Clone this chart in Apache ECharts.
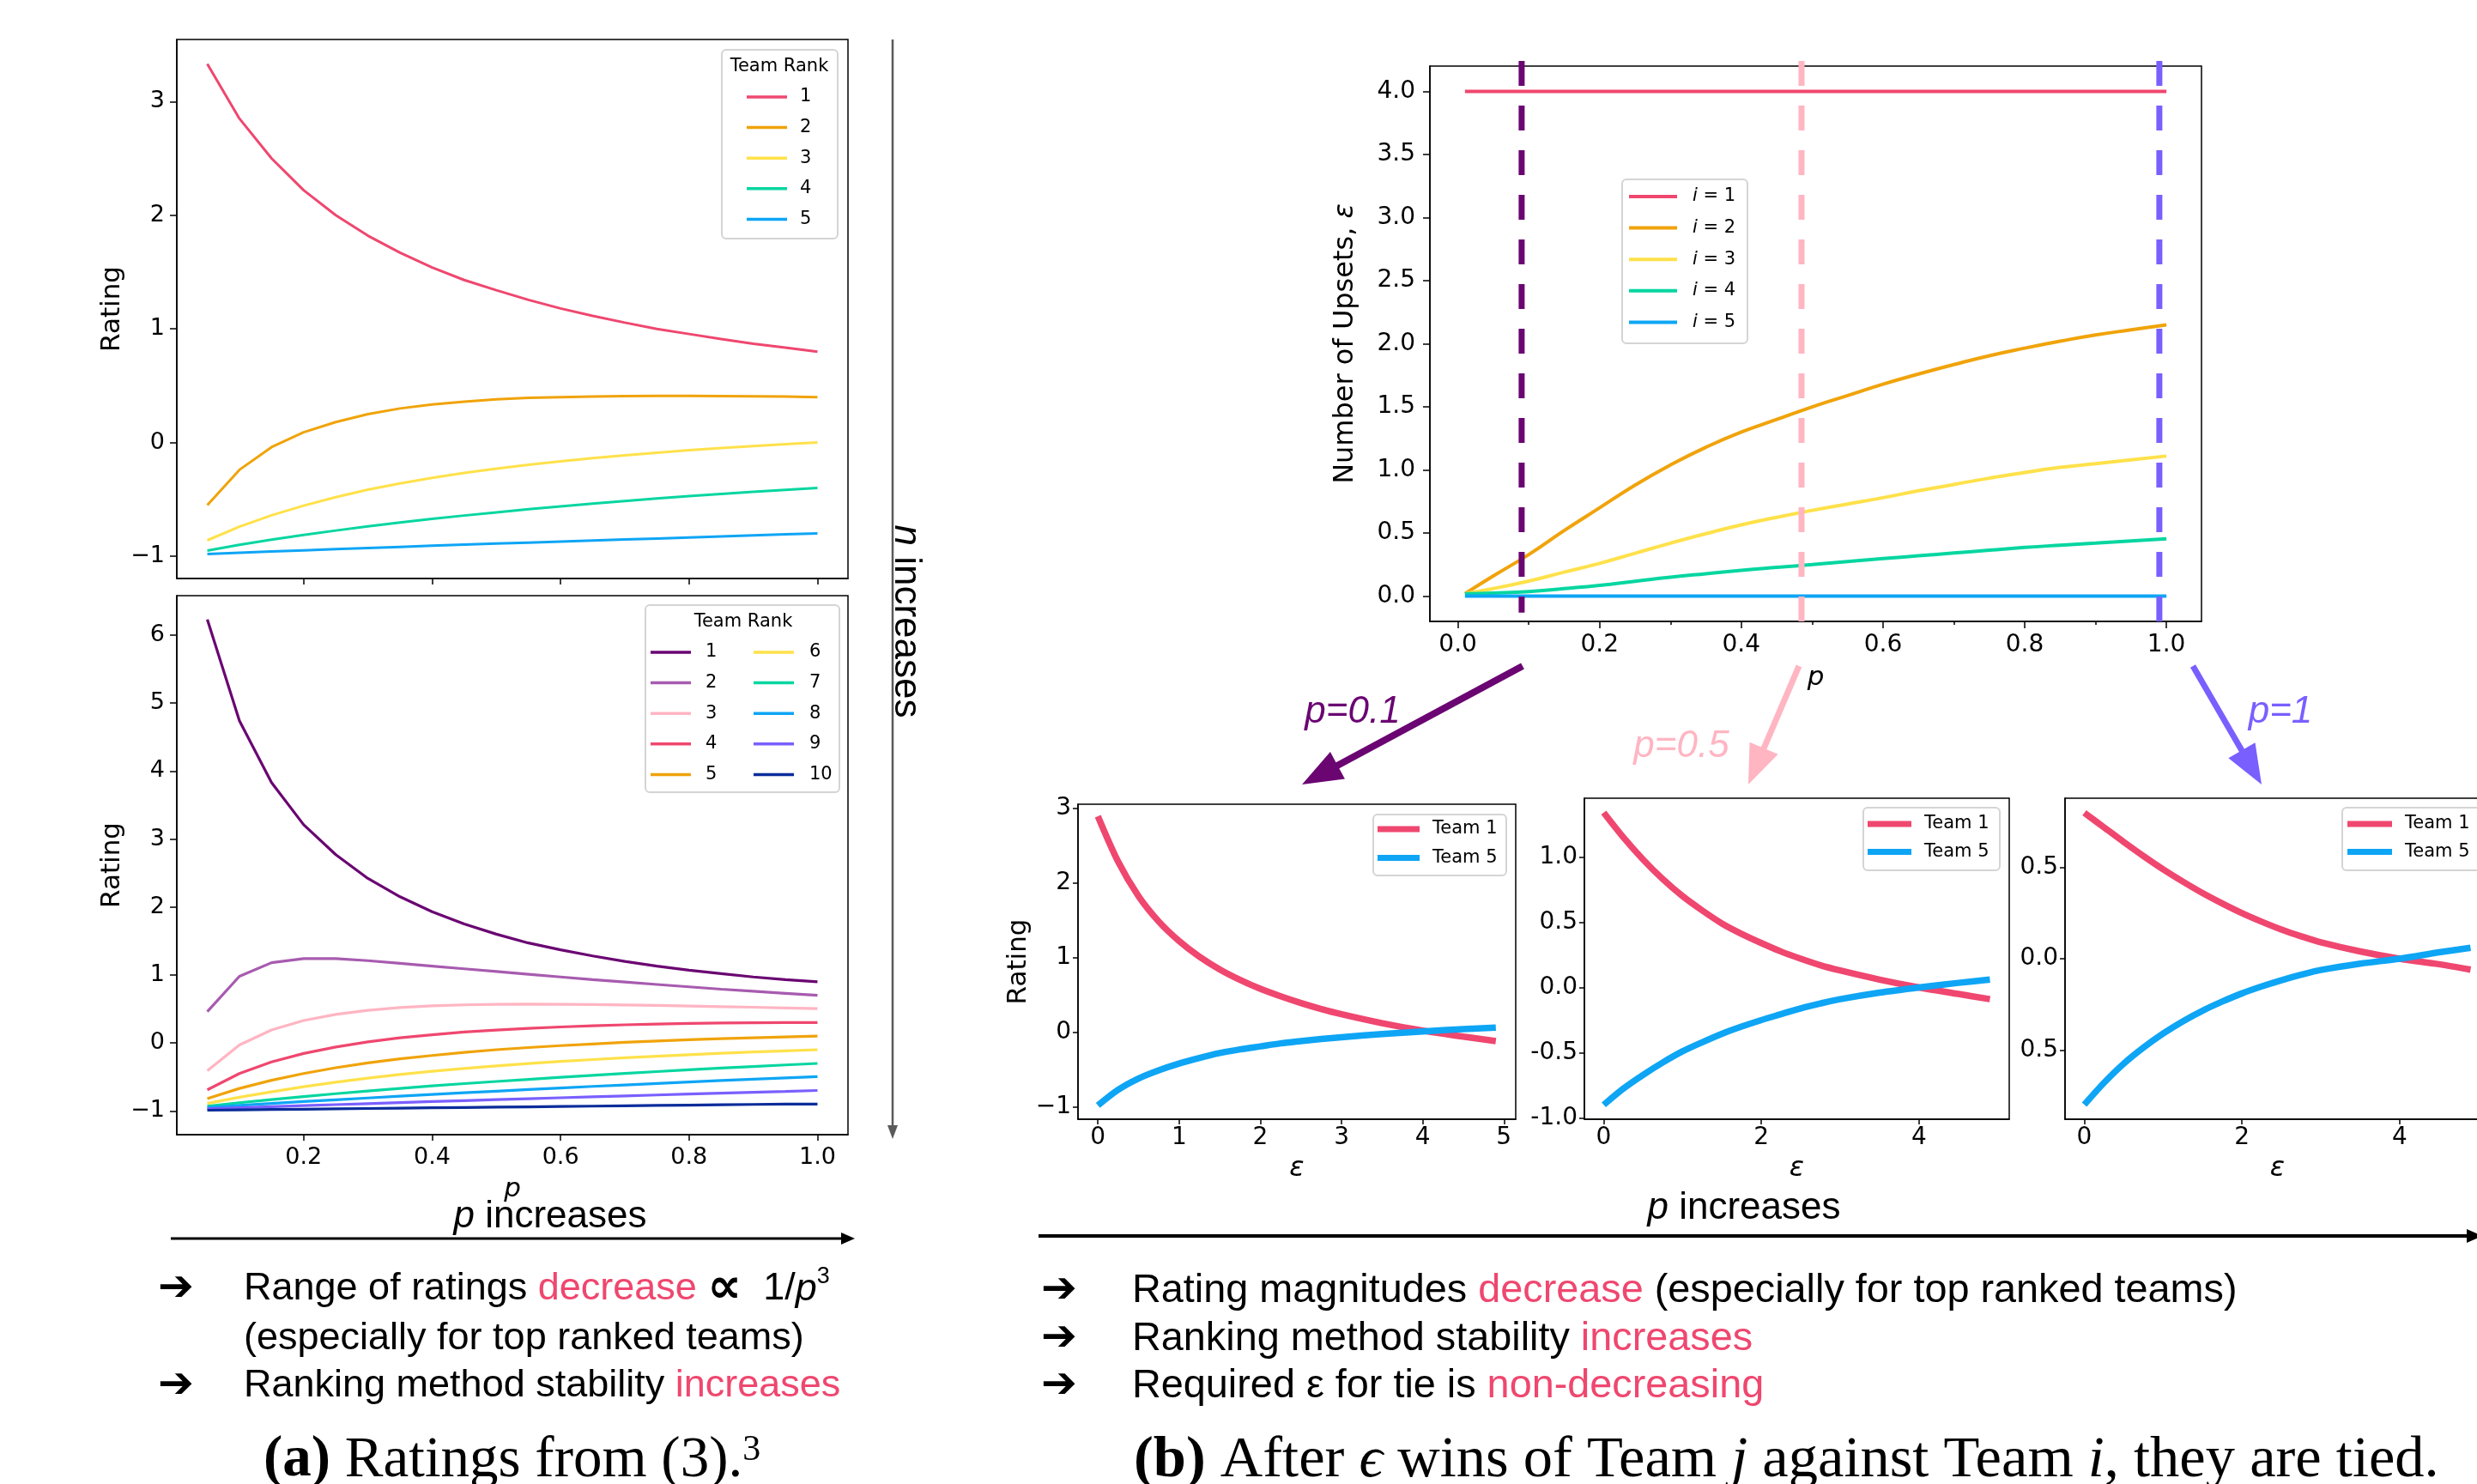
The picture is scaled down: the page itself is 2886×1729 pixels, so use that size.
<!DOCTYPE html>
<html>
<head>
<meta charset="utf-8">
<script src="https://cdn.jsdelivr.net/npm/echarts@6/dist/echarts.min.js"></script>
<style>
html, body { margin: 0; padding: 0; background: #fff; }
#chart { width: 2886px; height: 1729px; }
</style>
</head>
<body>
<div id="chart"></div>
<script>
// ---- data ----
const pLeft = [0.05, 0.1, 0.15, 0.2, 0.25, 0.3, 0.35, 0.4, 0.45, 0.5, 0.55, 0.6, 0.65, 0.7, 0.75, 0.8, 0.85, 0.9, 0.95, 1.0];

const topT1 = [3.33, 2.85, 2.50, 2.22, 2.00, 1.82, 1.67, 1.54, 1.43, 1.34, 1.255, 1.18, 1.115, 1.055, 1.00, 0.955, 0.91, 0.87, 0.835, 0.80];
const topT2 = [-0.55, -0.24, -0.04, 0.09, 0.18, 0.25, 0.30, 0.335, 0.36, 0.38, 0.393, 0.40, 0.405, 0.408, 0.41, 0.41, 0.409, 0.407, 0.404, 0.40];
const topT3 = [-0.86, -0.74, -0.64, -0.555, -0.48, -0.415, -0.36, -0.31, -0.267, -0.23, -0.195, -0.165, -0.137, -0.112, -0.089, -0.068, -0.049, -0.031, -0.015, 0.00];
const topT4 = [-0.95, -0.90, -0.855, -0.813, -0.774, -0.738, -0.704, -0.672, -0.642, -0.614, -0.587, -0.561, -0.537, -0.514, -0.492, -0.471, -0.452, -0.434, -0.417, -0.40];
const topT5 = [-0.98, -0.969, -0.958, -0.948, -0.938, -0.928, -0.918, -0.908, -0.898, -0.889, -0.880, -0.871, -0.862, -0.853, -0.844, -0.835, -0.826, -0.817, -0.808, -0.80];

const botT1 = [6.23, 4.74, 3.83, 3.21, 2.77, 2.42, 2.15, 1.93, 1.75, 1.60, 1.47, 1.37, 1.28, 1.20, 1.13, 1.07, 1.02, 0.97, 0.93, 0.90];
const botT2 = [0.46, 0.98, 1.18, 1.24, 1.24, 1.21, 1.17, 1.13, 1.09, 1.05, 1.01, 0.97, 0.93, 0.895, 0.86, 0.825, 0.79, 0.76, 0.73, 0.70];
const botT3 = [-0.41, -0.03, 0.19, 0.33, 0.42, 0.48, 0.52, 0.545, 0.56, 0.567, 0.57, 0.568, 0.564, 0.558, 0.551, 0.543, 0.534, 0.525, 0.515, 0.505];
const botT4 = [-0.69, -0.45, -0.28, -0.155, -0.06, 0.015, 0.075, 0.12, 0.16, 0.19, 0.215, 0.235, 0.252, 0.266, 0.277, 0.286, 0.292, 0.296, 0.299, 0.30];
const botT5 = [-0.82, -0.67, -0.55, -0.45, -0.365, -0.295, -0.235, -0.185, -0.14, -0.10, -0.068, -0.04, -0.015, 0.008, 0.028, 0.046, 0.062, 0.076, 0.089, 0.10];
const botT6 = [-0.89, -0.80, -0.72, -0.645, -0.578, -0.518, -0.465, -0.418, -0.376, -0.338, -0.304, -0.273, -0.245, -0.219, -0.195, -0.173, -0.153, -0.134, -0.117, -0.10];
const botT7 = [-0.93, -0.88, -0.833, -0.789, -0.747, -0.707, -0.669, -0.633, -0.599, -0.567, -0.536, -0.506, -0.477, -0.449, -0.422, -0.396, -0.371, -0.347, -0.324, -0.302];
const botT8 = [-0.95, -0.92, -0.891, -0.863, -0.836, -0.81, -0.784, -0.759, -0.734, -0.71, -0.686, -0.663, -0.64, -0.618, -0.596, -0.575, -0.554, -0.534, -0.514, -0.495];
const botT9 = [-0.97, -0.954, -0.938, -0.923, -0.908, -0.893, -0.878, -0.863, -0.849, -0.835, -0.821, -0.807, -0.793, -0.779, -0.766, -0.753, -0.740, -0.727, -0.714, -0.70];
const botT10 = [-0.99, -0.985, -0.98, -0.975, -0.97, -0.965, -0.96, -0.955, -0.95, -0.945, -0.94, -0.935, -0.93, -0.925, -0.92, -0.915, -0.91, -0.905, -0.90, -0.90];

const upsP = [0.01, 0.05, 0.1, 0.15, 0.2, 0.25, 0.3, 0.35, 0.4, 0.45, 0.5, 0.55, 0.6, 0.65, 0.7, 0.75, 0.8, 0.85, 0.9, 0.95, 1.0];
const upsI1 = [4, 4, 4, 4, 4, 4, 4, 4, 4, 4, 4, 4, 4, 4, 4, 4, 4, 4, 4, 4, 4];
const upsI2 = [0.02, 0.16, 0.33, 0.52, 0.70, 0.88, 1.04, 1.18, 1.30, 1.40, 1.50, 1.59, 1.68, 1.76, 1.835, 1.905, 1.965, 2.02, 2.07, 2.11, 2.15];
const upsI3 = [0.02, 0.06, 0.12, 0.19, 0.26, 0.34, 0.42, 0.495, 0.565, 0.625, 0.68, 0.73, 0.78, 0.835, 0.885, 0.935, 0.98, 1.02, 1.05, 1.08, 1.11];
const upsI4 = [0.02, 0.025, 0.036, 0.06, 0.086, 0.118, 0.15, 0.178, 0.205, 0.228, 0.25, 0.275, 0.298, 0.32, 0.342, 0.364, 0.386, 0.404, 0.42, 0.438, 0.455];
const upsI5 = [0, 0, 0, 0, 0, 0, 0, 0, 0, 0, 0, 0, 0, 0, 0, 0, 0, 0, 0, 0, 0];

const dashP = [0.09, 0.485, 0.99];
const dashTop = 4.24;
const dashBottom = [-0.13, -0.25, -0.25];

const epsX = [0, 0.25, 0.5, 0.75, 1, 1.25, 1.5, 1.75, 2, 2.25, 2.5, 2.75, 3, 3.5, 4, 4.5, 4.9];
const p01Team1 = [2.89, 2.28, 1.82, 1.48, 1.22, 1.01, 0.84, 0.70, 0.58, 0.48, 0.39, 0.31, 0.24, 0.12, 0.02, -0.06, -0.12];
const p01Team5 = [-0.98, -0.77, -0.62, -0.51, -0.42, -0.345, -0.28, -0.23, -0.19, -0.15, -0.12, -0.092, -0.068, -0.025, 0.01, 0.04, 0.06];
const p05Team1 = [1.34, 1.15, 0.98, 0.83, 0.70, 0.59, 0.49, 0.41, 0.34, 0.275, 0.22, 0.17, 0.13, 0.06, 0.00, -0.05, -0.09];
const p05Team5 = [-0.90, -0.775, -0.67, -0.575, -0.49, -0.42, -0.355, -0.30, -0.25, -0.205, -0.16, -0.123, -0.09, -0.04, 0.00, 0.035, 0.06];
const p1Team1 = [0.80, 0.72, 0.64, 0.563, 0.49, 0.423, 0.36, 0.303, 0.25, 0.203, 0.16, 0.123, 0.09, 0.04, 0.00, -0.03, -0.06];
const p1Team5 = [-0.80, -0.68, -0.575, -0.487, -0.41, -0.343, -0.285, -0.235, -0.19, -0.152, -0.118, -0.088, -0.062, -0.027, 0.00, 0.035, 0.06];

// tick labels
const leftXTicks = [0.2, 0.4, 0.6, 0.8, 1.0];
const topLeftYTicks = [-1, 0, 1, 2, 3];
const botLeftYTicks = [-1, 0, 1, 2, 3, 4, 5, 6];
const upsXTicks = [0, 0.2, 0.4, 0.6, 0.8, 1.0];
const upsXMinor = [0.1, 0.3, 0.5, 0.7, 0.9];
const upsYTicks = [0, 0.5, 1, 1.5, 2, 2.5, 3, 3.5, 4];
const eps1XTicks = [0, 1, 2, 3, 4, 5];
const eps1YTicks = [-1, 0, 1, 2, 3];
const eps23XTicks = [0, 2, 4];
const eps2YTicks = [-1, -0.5, 0, 0.5, 1];
const eps3YTicks = [-0.5, 0, 0.5];

// ---- colours ----
const RED = '#EF476F', ORANGE = '#F0A30A', YELLOW = '#FFE14A', TEAL = '#06D6A0', BLUE = '#0EA5F5';
const PURPLE = '#6A0572', ORCHID = '#A75BAF', LPINK = '#FFB5C2', VIOLET = '#7A5FFF', NAVY = '#0A2C9A';

const MPL = 'DejaVu Sans';
const SANS = 'Liberation Sans';
const SERIF = 'Liberation Serif';

function mathMinus(v) {
    return v < 0 ? '\u2212' + Math.abs(v) : String(v);
}

function valueAxis(grid, min, max, ticks, fmt, o) {
    o = o || {};
    return {
        type: 'value', gridIndex: grid, min: min, max: max,
        position: o.position,
        axisLine: {show: o.line !== false, onZero: false, lineStyle: {color: '#000', width: 1.5}},
        axisTick: {show: true, length: o.tick || 7, customValues: ticks, lineStyle: {color: '#000', width: 1.5}},
        axisLabel: {
            show: o.labels !== false, customValues: ticks, formatter: fmt,
            fontFamily: MPL, fontSize: o.size || 27, color: '#000', margin: o.margin || 12
        },
        splitLine: {show: false},
        name: o.name, nameLocation: 'middle', nameGap: o.nameGap, nameRotate: o.nameRotate,
        nameTextStyle: o.nameStyle
    };
}

function lineSeries(name, xs, ys, color, width, axis, extra) {
    return Object.assign({
        name: name, type: 'line', xAxisIndex: axis, yAxisIndex: axis,
        data: xs.map(function (x, i) { return [x, ys[i]]; }),
        symbol: 'none', showSymbol: false,
        lineStyle: {color: color, width: width},
        itemStyle: {color: color},
        emphasis: {disabled: true},
        z: 3
    }, extra || {});
}

function legendBlock(names, left, top, w, h, gap, pad, rich) {
    return {
        data: names, orient: 'vertical', left: left, top: top, padding: 0,
        itemWidth: w, itemHeight: h, itemGap: gap, icon: 'rect', selectedMode: false,
        textStyle: {fontFamily: MPL, fontSize: 21, color: '#000', lineHeight: 24, padding: [0, 0, 0, pad], rich: rich},
        formatter: function (n) {
            const label = n.split('|')[1];
            return rich ? '{it|i} = ' + label : label;
        },
        z: 10
    };
}

function frame(x, y, w, h) {
    return {type: 'rect', shape: {x: x, y: y, width: w, height: h, r: 5},
        style: {fill: 'rgba(255,255,255,0.85)', stroke: '#d4d4d4', lineWidth: 2}, z: 5};
}

function arrow(x1, y1, x2, y2, color, w, headLen, headHalf) {
    const dx = x2 - x1, dy = y2 - y1, L = Math.hypot(dx, dy), ux = dx / L, uy = dy / L;
    const bx = x2 - ux * headLen, by = y2 - uy * headLen;
    return [
        {type: 'line', shape: {x1: x1, y1: y1, x2: bx + ux * 2, y2: by + uy * 2}, style: {stroke: color, lineWidth: w}, z: 20},
        {type: 'polygon', shape: {points: [[x2, y2], [bx - uy * headHalf, by + ux * headHalf], [bx + uy * headHalf, by - ux * headHalf]]},
            style: {fill: color}, z: 20}
    ];
}

function label(text, x, y, o) {
    return {
        type: 'text', x: x, y: y, rotation: o.rotation || 0, z: 21,
        style: {
            text: text, fill: o.color || '#000', fontFamily: o.family || SANS, fontSize: o.size || 45,
            fontStyle: o.style || 'normal', fontWeight: o.weight || 'normal',
            align: o.align || 'left', verticalAlign: 'middle', rich: o.rich
        }
    };
}

const chart = echarts.init(document.getElementById('chart'), null, {renderer: 'canvas'});

const gridBase = {show: true, borderColor: '#000', borderWidth: 1.5, backgroundColor: 'rgba(0,0,0,0)', outerBoundsMode: 'none', containLabel: false};
const nameP = {fontFamily: MPL, fontStyle: 'italic', fontSize: 31, color: '#000'};
const nameEps = {fontFamily: MPL, fontStyle: 'italic', fontSize: 32, color: '#000'};
const nameRating = {fontFamily: MPL, fontSize: 31, color: '#000'};
const fix1 = function (v) { return v.toFixed(1); };

const series = [];
const topCols = [RED, ORANGE, YELLOW, TEAL, BLUE];
[topT1, topT2, topT3, topT4, topT5].forEach(function (ys, i) {
    series.push(lineSeries('A|' + (i + 1), pLeft, ys, topCols[i], 3, 0));
});
const botCols = [PURPLE, ORCHID, LPINK, RED, ORANGE, YELLOW, TEAL, BLUE, VIOLET, NAVY];
[botT1, botT2, botT3, botT4, botT5, botT6, botT7, botT8, botT9, botT10].forEach(function (ys, i) {
    series.push(lineSeries('B|' + (i + 1), pLeft, ys, botCols[i], 3.2, 1));
});
[upsI1, upsI2, upsI3, upsI4, upsI5].forEach(function (ys, i) {
    series.push(lineSeries('U|' + (i + 1), upsP, ys, topCols[i], 4, 2, {smooth: 0.5}));
});
const dashCols = [PURPLE, LPINK, VIOLET];
dashP.forEach(function (p, i) {
    series.push({
        type: 'line', xAxisIndex: 2, yAxisIndex: 2, clip: false, symbol: 'none',
        data: [[p, dashTop], [p, dashBottom[i]]],
        lineStyle: {color: dashCols[i], width: 7, type: [29, 23]},
        emphasis: {disabled: true}, z: 4
    });
});
const smallSets = [[p01Team1, p01Team5], [p05Team1, p05Team5], [p1Team1, p1Team5]];
smallSets.forEach(function (set, k) {
    const axis = {xAxisIndex: 4 + k, yAxisIndex: 3 + k, smooth: 0.3};
    series.push(lineSeries('S' + k + '|Team 1', epsX, set[0], RED, 7.5, 0, axis));
    series.push(lineSeries('S' + k + '|Team 5', epsX, set[1], BLUE, 7.5, 0, axis));
});

const graphic = [];
// legend frames and titles
graphic.push(frame(841, 58, 135, 220));
graphic.push(label('Team Rank', 908, 78, {family: MPL, size: 21, align: 'center'}));
graphic.push(frame(752, 705, 226, 218));
graphic.push(label('Team Rank', 866, 725, {family: MPL, size: 21, align: 'center'}));
graphic.push(frame(1890, 209, 146, 191));
graphic.push(frame(1600, 949, 155, 71));
graphic.push(frame(2171, 941, 159, 73));
graphic.push(frame(2729, 941, 180, 73));

// arrows
[].concat(
    arrow(1040, 46, 1040, 1327, '#5a5a5a', 2.5, 16, 6),
    arrow(199, 1443, 996, 1443, '#000', 3, 16, 7),
    arrow(1210, 1440, 2892, 1440, '#000', 4, 18, 8),
    arrow(1774, 776, 1517, 914, PURPLE, 8, 47, 18),
    arrow(2096, 776, 2037, 914, LPINK, 7, 46, 18),
    arrow(2555, 776, 2635, 914, VIOLET, 7, 46, 18)
).forEach(function (g) { graphic.push(g); });

graphic.push(label('{i|n} increases', 1055, 724, {size: 44, align: 'center', rotation: -Math.PI / 2,
    rich: {i: {fontStyle: 'italic', fontFamily: SANS, fontSize: 44}}}));
graphic.push(label('{i|p} increases', 641, 1418, {size: 44, align: 'center',
    rich: {i: {fontStyle: 'italic', fontFamily: SANS, fontSize: 44}}}));
graphic.push(label('{i|p} increases', 2032, 1408, {size: 44, align: 'center',
    rich: {i: {fontStyle: 'italic', fontFamily: SANS, fontSize: 44}}}));

graphic.push(label('p=0.1', 1576, 830, {size: 44, style: 'italic', color: PURPLE, align: 'center'}));
graphic.push(label('p=0.5', 1959, 870, {size: 44, style: 'italic', color: LPINK, align: 'center'}));
graphic.push(label('p=1', 2657, 830, {size: 44, style: 'italic', color: VIOLET, align: 'center'}));

// bullet text
function bodyRich(size) {
    return {
        r: {fill: RED, fontFamily: SANS, fontSize: size},
        i: {fontStyle: 'italic', fontFamily: SANS, fontSize: size},
        s: {fontFamily: SANS, fontSize: 27, verticalAlign: 'top', lineHeight: 27},
        pr: {fontFamily: MPL, fontWeight: 'bold', fontSize: 56}
    };
}
[[184, 1502], [184, 1615], [1213, 1504], [1213, 1560], [1213, 1615]].forEach(function (b) {
    graphic.push(label('\u2794', b[0], b[1], {family: MPL, size: 50, weight: 'bold'}));
});
graphic.push(label('Range of ratings {r|decrease} {pr|\u221d}  1/{i|p}{s|3}', 284, 1502, {size: 45, rich: bodyRich(45)}));
graphic.push(label('(especially for top ranked teams)', 284, 1560, {size: 45}));
graphic.push(label('Ranking method stability {r|increases}', 284, 1615, {size: 45, rich: bodyRich(45)}));
graphic.push(label('Rating magnitudes {r|decrease} (especially for top ranked teams)', 1319, 1504, {size: 46.8, rich: bodyRich(46.8)}));
graphic.push(label('Ranking method stability {r|increases}', 1319, 1560, {size: 46.8, rich: bodyRich(46.8)}));
graphic.push(label('Required \u03b5 for tie is {r|non-decreasing}', 1319, 1615, {size: 46.8, rich: bodyRich(46.8)}));

function capRich(size) {
    return {
        b: {fontFamily: SERIF, fontWeight: 'bold', fontSize: size},
        i: {fontFamily: SERIF, fontStyle: 'italic', fontSize: size},
        s: {fontFamily: SERIF, fontSize: 42, verticalAlign: 'top', lineHeight: 42}
    };
}
graphic.push(label('{b|(a)} Ratings from (3).{s|3}', 307, 1702, {family: SERIF, size: 67, rich: capRich(67)}));
graphic.push(label('{b|(b)} After {i|\u03f5} wins of Team {i|j} against Team {i|i}, they are tied.', 1321, 1702,
    {family: SERIF, size: 68.5, rich: capRich(68.5)}));

const option = {
    animation: false,
    backgroundColor: '#fff',
    grid: [
        Object.assign({left: 206, top: 46, width: 782, height: 628}, gridBase),
        Object.assign({left: 206, top: 694, width: 782, height: 628}, gridBase),
        Object.assign({left: 1666, top: 77, width: 899, height: 647}, gridBase),
        Object.assign({left: 1256, top: 937, width: 510, height: 367}, gridBase),
        Object.assign({left: 1846, top: 930, width: 495, height: 374}, gridBase),
        Object.assign({left: 2406, top: 930, width: 495, height: 374}, gridBase)
    ],
    xAxis: [
        valueAxis(0, 0.0025, 1.0475, leftXTicks, fix1, {labels: false}),
        valueAxis(1, 0.0025, 1.0475, leftXTicks, fix1, {margin: 13, name: 'p', nameGap: 48, nameStyle: nameP}),
        valueAxis(2, -0.0395, 1.0495, upsXTicks, fix1, {size: 28, margin: 14, tick: 8, name: 'p', nameGap: 50, nameStyle: nameP}),
        valueAxis(2, -0.0395, 1.0495, upsXMinor, fix1, {labels: false, line: false, tick: 4, position: 'bottom'}),
        valueAxis(3, -0.245, 5.145, eps1XTicks, String, {size: 28, margin: 8, tick: 6, name: '\u03b5', nameGap: 42, nameStyle: nameEps}),
        valueAxis(4, -0.245, 5.145, eps23XTicks, String, {size: 28, margin: 8, tick: 6, name: '\u03b5', nameGap: 42, nameStyle: nameEps}),
        valueAxis(5, -0.245, 5.145, eps23XTicks, String, {size: 28, margin: 8, tick: 6, name: '\u03b5', nameGap: 42, nameStyle: nameEps})
    ],
    yAxis: [
        valueAxis(0, -1.196, 3.546, topLeftYTicks, mathMinus, {margin: 14, tick: 8, name: 'Rating', nameGap: 60, nameRotate: 90, nameStyle: nameRating}),
        valueAxis(1, -1.35, 6.58, botLeftYTicks, mathMinus, {margin: 14, tick: 8, name: 'Rating', nameGap: 60, nameRotate: 90, nameStyle: nameRating}),
        valueAxis(2, -0.2, 4.2, upsYTicks, fix1, {size: 28, margin: 17, tick: 8, name: 'Number of Upsets, {it|\u03b5}', nameGap: 82, nameRotate: 90,
            nameStyle: {fontFamily: MPL, fontSize: 32, color: '#000', rich: {it: {fontFamily: MPL, fontStyle: 'italic', fontSize: 32}}}}),
        valueAxis(3, -1.165, 3.05, eps1YTicks, mathMinus, {size: 28, margin: 8, tick: 6, name: 'Rating', nameGap: 50, nameRotate: 90, nameStyle: nameRating}),
        valueAxis(4, -1.01, 1.45, eps2YTicks, fix1, {size: 28, margin: 8, tick: 6}),
        valueAxis(5, -0.88, 0.88, eps3YTicks, function (v) { return Math.abs(v).toFixed(1); }, {size: 28, margin: 8, tick: 6})
    ],
    legend: [
        legendBlock(['A|1', 'A|2', 'A|3', 'A|4', 'A|5'], 870, 101, 47, 3.5, 11.6, 10),
        legendBlock(['B|1', 'B|2', 'B|3', 'B|4', 'B|5'], 758, 748, 47, 3.5, 11.6, 12),
        legendBlock(['B|6', 'B|7', 'B|8', 'B|9', 'B|10'], 878, 748, 47, 3.5, 11.6, 13),
        legendBlock(['U|1', 'U|2', 'U|3', 'U|4', 'U|5'], 1898, 217, 56, 4, 12.6, 13,
            {it: {fontFamily: MPL, fontStyle: 'italic', fontSize: 21, lineHeight: 24}}),
        legendBlock(['S0|Team 1', 'S0|Team 5'], 1605, 954, 49, 7, 9.6, 10),
        legendBlock(['S1|Team 1', 'S1|Team 5'], 2176, 948, 51, 7, 8.6, 10),
        legendBlock(['S2|Team 1', 'S2|Team 5'], 2735, 948, 52, 7, 8.6, 10)
    ],
    graphic: graphic,
    series: series
};

chart.setOption(option);
window.addEventListener('resize', function () {
    chart.resize();
});
</script>
</body>
</html>
